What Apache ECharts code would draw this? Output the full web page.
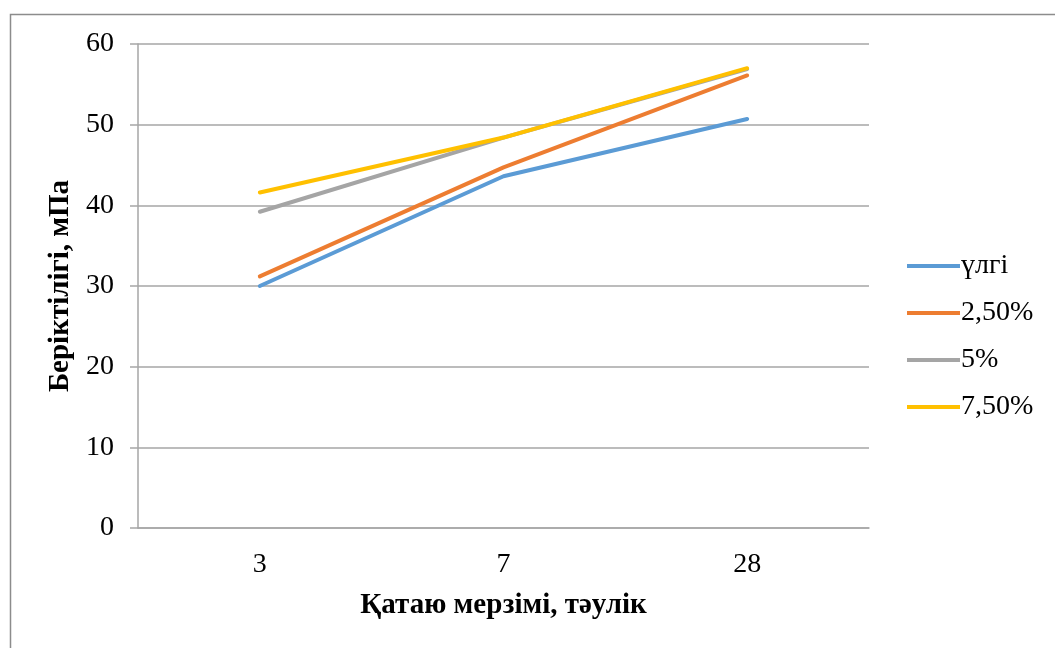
<!DOCTYPE html>
<html>
<head>
<meta charset="utf-8">
<script src="https://cdn.jsdelivr.net/npm/echarts@6/dist/echarts.min.js"></script>
<style>
html,body{margin:0;padding:0;background:#fff;}
#chart{width:1055px;height:648px;}
</style>
</head>
<body>
<div id="chart"></div>
<script>
const categories = ['3', '7', '28'];
const seriesNames = ['үлгі', '2,50%', '5%', '7,50%'];
const s_ulgi = [30.0, 43.6, 50.7];
const s_250 = [31.2, 44.7, 56.1];
const s_5 = [39.2, 48.4, 56.9];
const s_750 = [41.6, 48.4, 57.0];
const yTicks = [0, 10, 20, 30, 40, 50, 60];
const colors = ['#5B9BD5', '#ED7D31', '#A5A5A5', '#FFC000'];

const chart = echarts.init(document.getElementById('chart'), null, {renderer: 'canvas'});
const font = '"Liberation Serif", "Times New Roman", serif';
const dataSets = [s_ulgi, s_250, s_5, s_750];

chart.setOption({
  animation: false,
  backgroundColor: '#fff',
  graphic: [{
    type: 'rect',
    shape: {x: 10.5, y: 14.5, width: 1100, height: 700},
    style: {fill: 'none', stroke: '#8c8c8c', lineWidth: 1.5},
    silent: true
  }],
  grid: {left: 138, top: 44, width: 731, height: 484, containLabel: false},
  legend: {
    orient: 'vertical',
    left: 902,
    top: 247,
    itemGap: 19,
    itemWidth: 53,
    itemHeight: 4,
    icon: 'rect',
    data: seriesNames,
    textStyle: {fontFamily: font, fontSize: 28, color: '#000', padding: [0, 0, 0, -4]}
  },
  xAxis: {
    type: 'category',
    data: categories,
    boundaryGap: true,
    name: 'Қатаю мерзімі, тәулік',
    nameLocation: 'middle',
    nameGap: 63,
    nameTextStyle: {fontFamily: font, fontSize: 29, fontWeight: 'bold', color: '#000'},
    axisLine: {lineStyle: {color: '#a6a6a6', width: 1.5}},
    axisTick: {show: false},
    axisLabel: {fontFamily: font, fontSize: 28, color: '#000', margin: 23}
  },
  yAxis: {
    type: 'value',
    min: 0,
    max: 60,
    interval: 10,
    name: 'Беріктілігі, мПа',
    nameLocation: 'middle',
    nameGap: 61,
    nameRotate: 90,
    nameTextStyle: {fontFamily: font, fontSize: 29, fontWeight: 'bold', color: '#000'},
    axisLine: {show: true, lineStyle: {color: '#a6a6a6', width: 1.5}},
    axisTick: {show: true, length: 8, lineStyle: {color: '#a6a6a6', width: 1.5}},
    splitLine: {lineStyle: {color: '#a6a6a6', width: 1.5}},
    axisLabel: {fontFamily: font, fontSize: 28, color: '#000', margin: 24,
      formatter: function (v) { return yTicks.indexOf(v) >= 0 ? String(v) : ''; }}
  },
  series: seriesNames.map(function (n, i) {
    return {
      name: n,
      type: 'line',
      data: dataSets[i],
      symbol: 'none',
      lineStyle: {width: 4, color: colors[i], cap: 'round'},
      itemStyle: {color: colors[i]}
    };
  })
});
</script>
</body>
</html>
